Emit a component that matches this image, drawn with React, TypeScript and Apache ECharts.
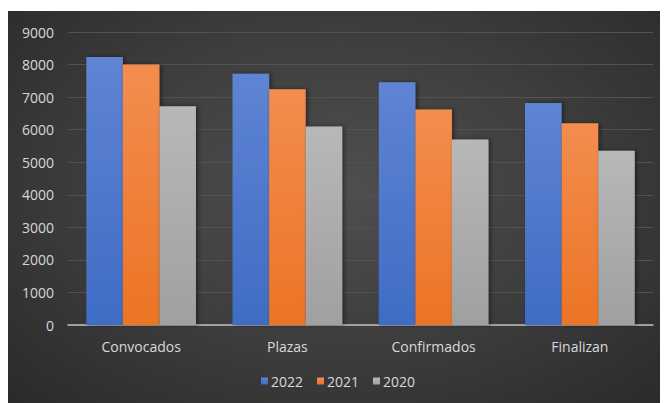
import React, { useEffect, useRef } from "react";
import * as echarts from "echarts";

const categories = ["Convocados", "Plazas", "Confirmados", "Finalizan"];
const seriesNames = ["2022", "2021", "2020"];
const values2022 = [8230, 7720, 7460, 6820];
const values2021 = [8000, 7240, 6620, 6200];
const values2020 = [6720, 6100, 5700, 5350];
const yTicks = [0, 1000, 2000, 3000, 4000, 5000, 6000, 7000, 8000, 9000];

const colorStops = [
  ["#5f84d3", "#3f6cc4"],
  ["#f38d4f", "#ec7424"],
  ["#b8b8b8", "#a0a0a0"],
];

export default function App() {
  const ref = useRef<HTMLDivElement>(null);
  useEffect(() => {
    if (!ref.current) return;
    const chart = echarts.init(ref.current, undefined, { renderer: "svg" });
    const data = [values2022, values2021, values2020];
    const font = "'Open Sans', 'Liberation Sans', Arial, sans-serif";
    chart.setOption({
      animation: false,
      backgroundColor: "transparent",
      textStyle: { fontFamily: font },
      grid: { left: 60, right: 15, top: 21, bottom: 78, containLabel: false },
      legend: {
        data: seriesNames,
        bottom: 10,
        left: "center",
        itemWidth: 7,
        itemHeight: 7,
        itemGap: 14,
        icon: "rect",
        textStyle: { color: "#d9d9d9", fontSize: 14, fontFamily: font, padding: [0, 0, 0, -2] },
      },
      xAxis: {
        type: "category",
        data: categories,
        axisLine: { lineStyle: { color: "#bfbfbf", width: 1.5 } },
        axisTick: { show: false },
        axisLabel: { color: "#d9d9d9", fontSize: 14, margin: 14, fontFamily: font },
      },
      yAxis: {
        type: "value",
        min: yTicks[0],
        max: yTicks[yTicks.length - 1],
        interval: 1000,
        axisLine: { show: false },
        axisTick: { show: false },
        axisLabel: {
          color: "#d9d9d9",
          fontSize: 14,
          margin: 14,
          fontFamily: font,
          formatter: (v: number) => String(v),
        },
        splitLine: { lineStyle: { color: "#525252", width: 1 } },
      },
      series: seriesNames.map((name, i) => ({
        name,
        type: "bar",
        data: data[i],
        barGap: "0%",
        barCategoryGap: "25%",
        itemStyle: {
          color: new echarts.graphic.LinearGradient(0, 0, 0, 1, [
            { offset: 0, color: colorStops[i][0] },
            { offset: 1, color: colorStops[i][1] },
          ]),
          shadowColor: "rgba(0,0,0,0.45)",
          shadowBlur: 4,
          shadowOffsetX: 2,
          shadowOffsetY: 0,
        },
      })),
    });
    return () => chart.dispose();
  }, []);
  return (
    <div
      style={{
        marginTop: 3,
        width: 660,
        height: 392,
        background: "radial-gradient(ellipse at 50% 45%, #4f4f4f 0%, #3e3e3e 50%, #2a2a2a 100%)",
      }}
    >
      <div ref={ref} style={{ width: 660, height: 392 }} />
    </div>
  );
}
